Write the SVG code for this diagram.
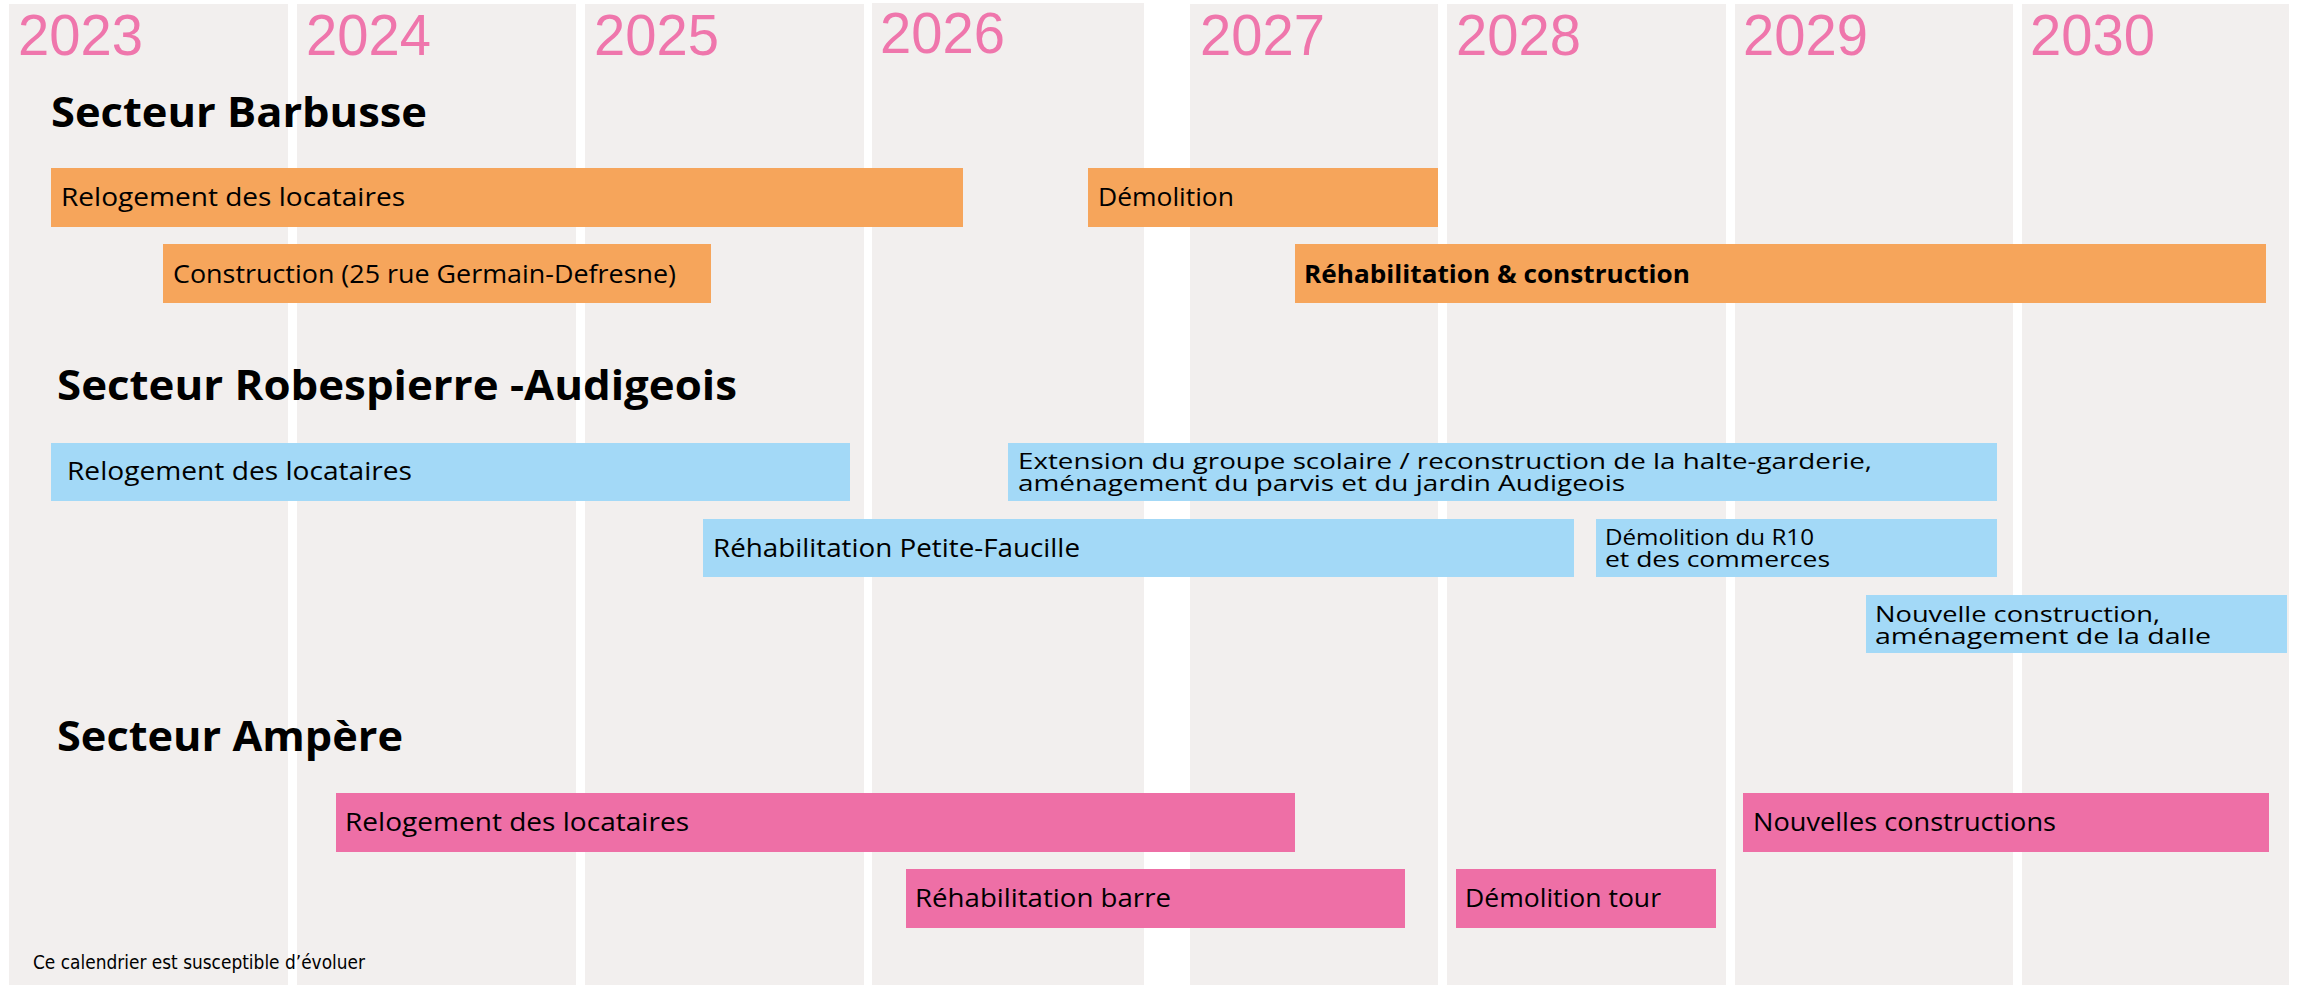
<svg xmlns="http://www.w3.org/2000/svg" width="2303" height="986" viewBox="0 0 2303 986">
<style>
.col{fill:#f2efee}
.yr{font-family:"Liberation Sans",Arial,sans-serif;font-size:57px;fill:#ef76ac}
.hd{font-family:"Open Sans","Noto Sans",sans-serif;font-weight:700;font-size:41px;fill:#000}
.lb{font-family:"Open Sans","Noto Sans",sans-serif;font-size:25px;fill:#000}
.lb2{font-family:"Open Sans","Noto Sans",sans-serif;font-size:21.5px;fill:#000}
.lbb{font-family:"Open Sans","Noto Sans",sans-serif;font-weight:700;font-size:25px;fill:#000}
.ft{font-family:"DejaVu Sans Condensed","Liberation Sans",sans-serif;font-size:19px;fill:#000}
.or{fill:#f6a55b}
.bl{fill:#a3d9f7}
.pk{fill:#ee6fa6}
</style>
<rect width="2303" height="986" fill="#ffffff"/>
<g id="columns">
<rect class="col" x="9" y="4" width="279" height="981"/>
<rect class="col" x="297" y="4" width="279" height="981"/>
<rect class="col" x="585" y="4" width="279" height="981"/>
<rect class="col" x="872" y="3" width="272" height="982"/>
<rect class="col" x="1190" y="4" width="248" height="981"/>
<rect class="col" x="1447" y="4" width="279" height="981"/>
<rect class="col" x="1735" y="4" width="278" height="981"/>
<rect class="col" x="2022" y="4" width="267" height="981"/>
</g>
<g id="years">
<text class="yr" x="18" y="55" textLength="125" lengthAdjust="spacingAndGlyphs">2023</text>
<text class="yr" x="306" y="55" textLength="125" lengthAdjust="spacingAndGlyphs">2024</text>
<text class="yr" x="594" y="55" textLength="125" lengthAdjust="spacingAndGlyphs">2025</text>
<text class="yr" x="880" y="53" textLength="125" lengthAdjust="spacingAndGlyphs">2026</text>
<text class="yr" x="1200" y="55" textLength="125" lengthAdjust="spacingAndGlyphs">2027</text>
<text class="yr" x="1456" y="55" textLength="125" lengthAdjust="spacingAndGlyphs">2028</text>
<text class="yr" x="1743" y="55" textLength="125" lengthAdjust="spacingAndGlyphs">2029</text>
<text class="yr" x="2030" y="55" textLength="125" lengthAdjust="spacingAndGlyphs">2030</text>
</g>
<g id="headings">
<text class="hd" x="51" y="127" textLength="376" lengthAdjust="spacingAndGlyphs">Secteur Barbusse</text>
<text class="hd" x="57" y="400" textLength="680" lengthAdjust="spacingAndGlyphs">Secteur Robespierre -Audigeois</text>
<text class="hd" x="57" y="751" textLength="346" lengthAdjust="spacingAndGlyphs">Secteur Ampère</text>
</g>
<g id="barbusse-relogement">
<rect class="or" x="51" y="168" width="912" height="59"/>
<text class="lb" x="61" y="206" textLength="344" lengthAdjust="spacingAndGlyphs">Relogement des locataires</text>
</g>
<g id="barbusse-demolition">
<rect class="or" x="1088" y="168" width="350" height="59"/>
<text class="lb" x="1098" y="206" textLength="136" lengthAdjust="spacingAndGlyphs">Démolition</text>
</g>
<g id="barbusse-construction">
<rect class="or" x="163" y="244" width="548" height="59"/>
<text class="lb" x="173" y="283" textLength="503" lengthAdjust="spacingAndGlyphs">Construction (25 rue Germain-Defresne)</text>
</g>
<g id="barbusse-rehabilitation">
<rect class="or" x="1295" y="244" width="971" height="59"/>
<text class="lbb" x="1304" y="283" textLength="386" lengthAdjust="spacingAndGlyphs">Réhabilitation &amp; construction</text>
</g>
<g id="robespierre-relogement">
<rect class="bl" x="51" y="443" width="799" height="58"/>
<text class="lb" x="67" y="480" textLength="345" lengthAdjust="spacingAndGlyphs">Relogement des locataires</text>
</g>
<g id="robespierre-extension">
<rect class="bl" x="1008" y="443" width="989" height="58"/>
<text class="lb2" x="1018" y="469" textLength="854" lengthAdjust="spacingAndGlyphs">Extension du groupe scolaire / reconstruction de la halte-garderie,</text>
<text class="lb2" x="1018" y="491" textLength="607" lengthAdjust="spacingAndGlyphs">aménagement du parvis et du jardin Audigeois</text>
</g>
<g id="robespierre-rehabilitation">
<rect class="bl" x="703" y="519" width="871" height="58"/>
<text class="lb" x="713" y="557" textLength="367" lengthAdjust="spacingAndGlyphs">Réhabilitation Petite-Faucille</text>
</g>
<g id="robespierre-demolition">
<rect class="bl" x="1596" y="519" width="401" height="58"/>
<text class="lb2" x="1605" y="545" textLength="209" lengthAdjust="spacingAndGlyphs">Démolition du R10</text>
<text class="lb2" x="1605" y="567" textLength="225" lengthAdjust="spacingAndGlyphs">et des commerces</text>
</g>
<g id="robespierre-nouvelle">
<rect class="bl" x="1866" y="595" width="421" height="58"/>
<text class="lb2" x="1875" y="622" textLength="285" lengthAdjust="spacingAndGlyphs">Nouvelle construction,</text>
<text class="lb2" x="1875" y="644" textLength="336" lengthAdjust="spacingAndGlyphs">aménagement de la dalle</text>
</g>
<g id="ampere-relogement">
<rect class="pk" x="336" y="793" width="959" height="59"/>
<text class="lb" x="345" y="831" textLength="344" lengthAdjust="spacingAndGlyphs">Relogement des locataires</text>
</g>
<g id="ampere-nouvelles">
<rect class="pk" x="1743" y="793" width="526" height="59"/>
<text class="lb" x="1753" y="831" textLength="303" lengthAdjust="spacingAndGlyphs">Nouvelles constructions</text>
</g>
<g id="ampere-rehabilitation">
<rect class="pk" x="906" y="869" width="499" height="59"/>
<text class="lb" x="915" y="907" textLength="256" lengthAdjust="spacingAndGlyphs">Réhabilitation barre</text>
</g>
<g id="ampere-demolition">
<rect class="pk" x="1456" y="869" width="260" height="59"/>
<text class="lb" x="1465" y="907" textLength="196" lengthAdjust="spacingAndGlyphs">Démolition tour</text>
</g>
<g id="connectors"></g>
<g id="footer">
<text class="ft" x="33" y="969" textLength="332" lengthAdjust="spacingAndGlyphs">Ce calendrier est susceptible d’évoluer</text>
</g>
</svg>
